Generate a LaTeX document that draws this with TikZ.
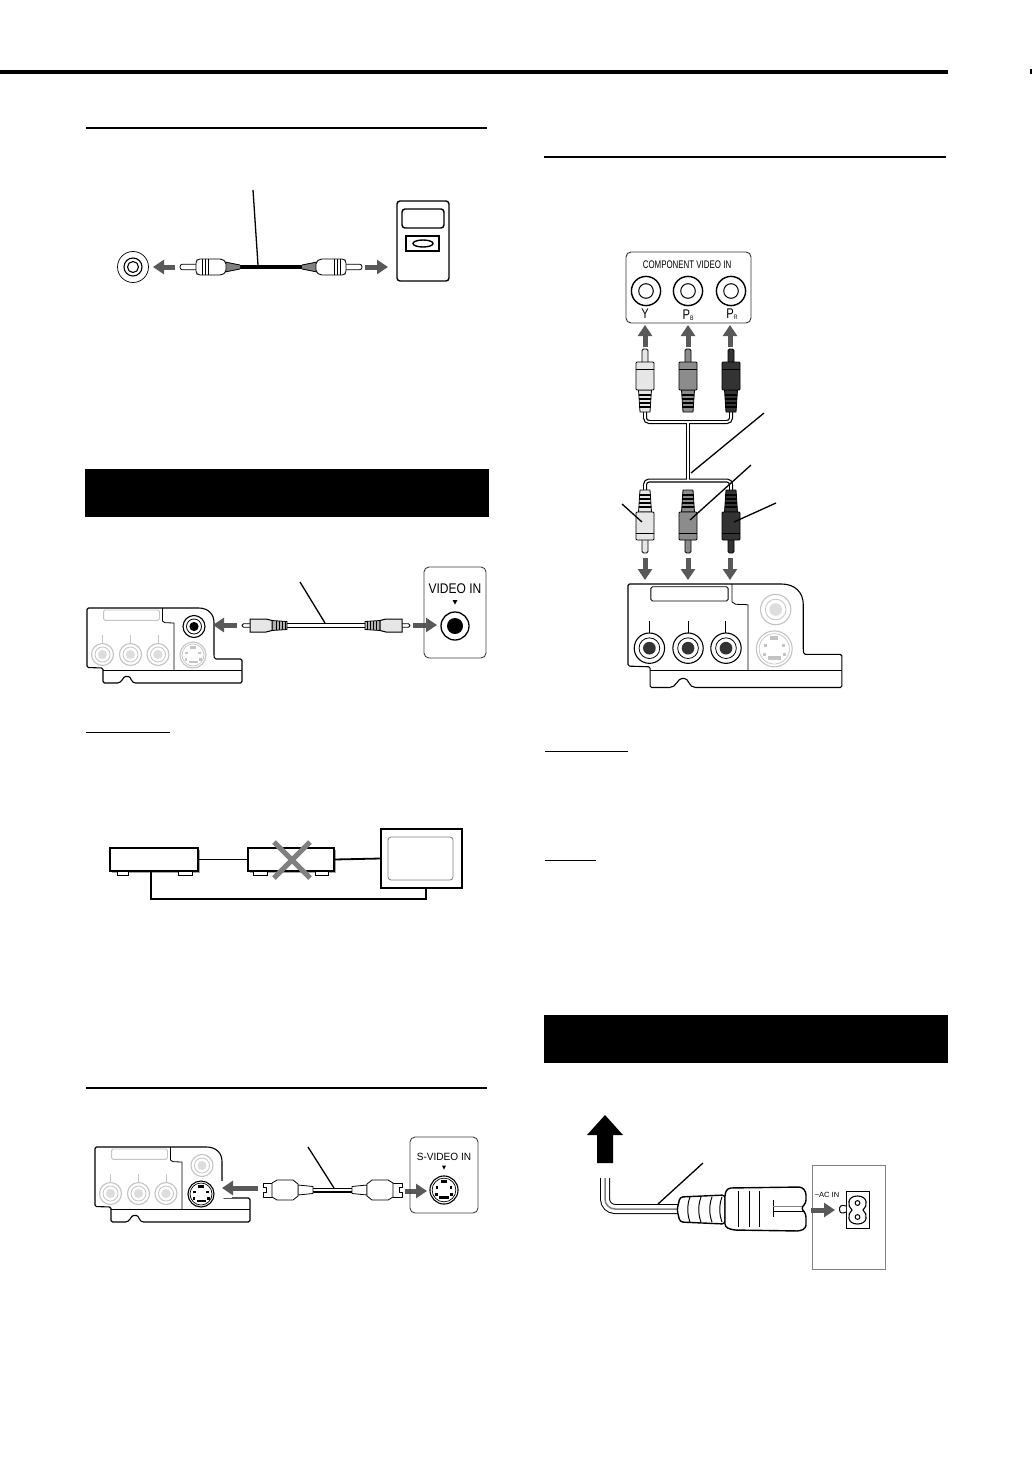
\documentclass[tikz,border=0pt]{standalone}
\usepackage{fontspec}
\setmainfont{Liberation Sans}
\usetikzlibrary{arrows.meta}
\definecolor{arrowgray}{HTML}{595959}
\definecolor{fadegray}{HTML}{C4C4C4}
\definecolor{fadefill}{HTML}{DDDDDD}
\definecolor{plugw}{HTML}{E6E6E6}
\definecolor{plugg}{HTML}{8C8C8C}
\definecolor{plugk}{HTML}{333333}
\tikzset{
  rulel/.style={line width=2pt,black},
  leader/.style={line width=1.3pt,black},
  garrow/.style={line width=5pt,arrowgray,-{Triangle[length=11pt,width=14pt]}},
  outl/.style={line width=1.1pt,black,line join=round},
  thinl/.style={line width=.8pt,black,line join=round},
  cableo/.style={line width=4pt,black,rounded corners=4pt},
  cablei/.style={line width=1.6pt,white,rounded corners=4pt},
  devbox/.style={draw=black,line width=1.1pt,fill=white,inner sep=0pt},
  lbl/.style={inner sep=0pt,text=black},
}
% RCA socket, colour of lines, colour of centre
\newcommand{\rcasock}[4]{%
  \draw[line width=1.1pt,#3,fill=white] (#1,#2) circle (11);
  \draw[line width=.8pt,#3] (#1,#2) circle (7.5);
  \fill[#4] (#1,#2) circle (4.6);
}
\newcommand{\sdin}[4]{% x y radius colour
  \begin{scope}[shift={(#1,#2)},scale=#3]
    \draw[line width=1.1pt,#4,fill=white] (0,0) circle (13);
    \draw[line width=.7pt,#4] (0,0) circle (11);
    \fill[#4] (-3,-9.5) rectangle (3,-6.5);
    \fill[#4] (-4.5,5.5) rectangle (4.5,8);
    \fill[#4] (-7.8,-3.5) rectangle (-5.3,-1);
    \fill[#4] (5.3,-3.5) rectangle (7.8,-1);
    \fill[#4] (-8.5,3) rectangle (-6,5.5);
    \fill[#4] (6,3) rectangle (8.5,5.5);
  \end{scope}
}
% rear panel: x y scale jackcolour jackfill topcolour topfill scolour slotcolour
\newcommand{\rearpanel}[9]{%
  \begin{scope}[shift={(#1,#2)},scale=#3]
    \draw[outl,fill=white,rounded corners=1.5pt] (0,0) -- (110,0)
      .. controls (121,0) and (127,6) .. (127,16) -- (127,48)
      -- (127.5,51) -- (155,51) -- (155,75) -- (50,75)
      .. controls (44,75) and (44,68.5) .. (40,68.5)
      .. controls (36,68.5) and (35,75) .. (29,75)
      -- (16,75) -- (16,60) -- (0,59.5) -- cycle;
    \draw[outl] (16,62.5) -- (155,62.5);
    \draw[thinl] (75.4,0) -- (75.4,13) -- (78,14.7) -- (87,15) -- (87,62.5);
    \draw[line width=.9pt,#9,rounded corners=1.5pt] (16.6,2) rectangle (72.5,12.3);
    \draw[line width=1pt,#4] (15.5,27) -- (15.5,36);
    \draw[line width=1pt,#4] (43.5,27) -- (43.5,36);
    \draw[line width=1pt,#4] (71,27) -- (71,36);
    \rcasock{15.5}{46.5}{#4}{#5}
    \rcasock{43.5}{46.5}{#4}{#5}
    \rcasock{71}{46.5}{#4}{#5}
    \rcasock{107}{18.5}{#6}{#7}
    \sdin{106}{47}{1}{#8}
  \end{scope}
}
% vertical plug: x, y of the tip, direction, fill
\newcommand{\vplug}[5]{%
  \begin{scope}[shift={(#1,#2)},yscale=#3]
    \draw[thinl,fill=#4,rounded corners=1.5pt] (-3,14) -- (-3,0) -- (3,0) -- (3,14);
    \draw[thinl,fill=#4] (-6.5,41) -- (-5,63) -- (5,63) -- (6.5,41) -- cycle;
    \foreach \ry in {46,50,54,58} \draw[line width=1.2pt,#5] (-6.2,\ry) -- (6.2,\ry);
    \draw[thinl,fill=#4,rounded corners=1pt] (-9,13) -- (-9,41) -- (9,41) -- (9,13) -- cycle;
    \draw[line width=.8pt,black] (-9,20) -- (9,20);
  \end{scope}
}
% small RCA plug of the first drawing
\newcommand{\hpluga}[3]{%
  \begin{scope}[shift={(#1,#2)},xscale=#3]
    \draw[thinl,fill=white,rounded corners=2.5pt] (16,-2.8) -- (0,-2.8) -- (0,2.8) -- (16,2.8);
    \fill[gray] (45,-5) -- (60,-2) -- (60,2) -- (45,5) -- cycle;
    \draw[thinl] (45,-5) -- (60,-2) (45,5) -- (60,2);
    \draw[thinl,fill=white,rounded corners=2pt] (16,-6) -- (18,-8) -- (42,-8) -- (46,-5) -- (46,5) -- (42,8) -- (18,8) -- (16,6) -- cycle;
    \draw[thinl] (22,-8) -- (22,8) (25,-8) -- (25,8) (28,-8) -- (28,8);
  \end{scope}
}
% RCA plug of the video drawing
\newcommand{\hplugb}[3]{%
  \begin{scope}[shift={(#1,#2)},xscale=#3]
    \draw[thinl,fill=white,rounded corners=1.5pt] (9,-1.8) -- (0,-1.8) -- (0,1.8) -- (9,1.8);
    \draw[thinl,fill=gray!60] (30,-5) -- (45,-4) -- (45,4) -- (30,5) -- cycle;
    \foreach \rx in {34,37,40,43} \draw[line width=1pt,black] (\rx,-4.5) -- (\rx,4.5);
    \draw[line width=1pt,black,fill=plugw] (8,-6.5) -- (24,-6.5) -- (30,-5) -- (30,5) -- (24,6.5) -- (8,6.5) -- cycle;
  \end{scope}
}
% S-video plug
\newcommand{\hplugs}[3]{%
  \begin{scope}[shift={(#1,#2)},xscale=#3]
    \draw[thinl,fill=white] (9,-7) -- (0,-7) -- (0,-2.5) -- (3,-2.5) -- (3,2.5) -- (0,2.5) -- (0,7) -- (9,7);
    \draw[thinl,fill=white] (35,-5) -- (50,-3.5) -- (50,3.5) -- (35,5) -- cycle;
    \draw[thinl,fill=white] (9,-7) -- (14,-10) -- (30,-10) -- (35,-6) -- (35,6) -- (30,10) -- (14,10) -- (9,7) -- cycle;
  \end{scope}
}
\begin{document}
\begin{tikzpicture}[x=1pt,y=-1pt]
\useasboundingbox[fill=white] (0,0) rectangle (1033,1458);

% page furniture
\fill[black] (0,70) rectangle (948,74.5);
\fill[black] (1030,69) rectangle (1032,74);
\draw[rulel] (86,128) -- (487,128);
\draw[rulel] (544,157) -- (946,157);
\draw[rulel] (86,1088) -- (487,1088);
\fill[black] (85,469) rectangle (489,517);
\fill[black] (544,1015) rectangle (948,1063);
\draw[line width=1pt] (86,732) -- (170,732);
\draw[line width=1pt] (545,751) -- (628,751);
\draw[line width=1pt] (545,860) -- (596,860);

% ---- drawing 1
\draw[line width=.7pt] (133,267) circle (15.5);
\draw[line width=1.1pt] (133,267) circle (9);
\draw[line width=1.1pt] (133,267) circle (5.5);
\draw[garrow] (175,267) -- (153,267);
\draw[garrow] (365,267) -- (388,267);
\draw[line width=4pt,black] (238,267) -- (304,267);
\hpluga{180}{267}{1}
\hpluga{362}{267}{-1}
\draw[leader] (253,190) -- (258,265);
\draw[line width=1.4pt,rounded corners=3pt] (397,201) rectangle (449,281);
\draw[line width=1.4pt,rounded corners=3pt] (402,209) rectangle (444,228);
\draw[line width=1.4pt] (406,236) rectangle (439,251);
\draw[line width=1.4pt] (423,243.5) ellipse (10 and 3.5);

% ---- drawing 2
\rearpanel{87}{608}{1}{fadegray}{fadefill}{black}{black}{fadegray}{fadegray}
\draw[garrow] (237,625) -- (213,625);
\draw[garrow] (413,625) -- (437,625);
\draw[line width=5pt,black] (285,625.5) -- (365,625.5);
\draw[line width=2.6pt,white] (285,625.5) -- (365,625.5);
\hplugb{242}{625.5}{1}
\hplugb{410}{625.5}{-1}
\draw[leader] (300,582) -- (325,623);
\draw[line width=.9pt,black!75,rounded corners=5pt] (424,567) rectangle (486,658);
\node[lbl,font=\fontsize{14}{14}\selectfont,xscale=.86] (videoin) at (455,589) {VIDEO IN};
\fill (452.5,600) -- (457.5,600) -- (455,604.5) -- cycle;
\draw[line width=1.3pt] (455,626) circle (14);
\fill (455,626) circle (8);

% ---- warning drawing
\fill[black!35] (111.5,849.5) rectangle (199.5,872.5);
\fill[black!35] (249.5,849.5) rectangle (335.5,872.5);
\draw[devbox,line width=1pt] (117,871) rectangle (128,875);
\draw[devbox,line width=1pt] (178,871) rectangle (192,875);
\draw[devbox,line width=1pt] (253,871) rectangle (267,875);
\draw[devbox,line width=1pt] (315,871) rectangle (328,875);
\node[devbox,minimum width=88pt,minimum height=23pt] (player) at (154,859.5) {};
\node[devbox,minimum width=86pt,minimum height=23pt] (vcr) at (291,859.5) {};
\node[devbox,minimum width=81pt,minimum height=59pt] (tv) at (421.5,858.5) {};
\draw[line width=.8pt,black!50,rounded corners=3pt] (388,837) rectangle (453,880);
\draw[line width=1.8pt] (player.east) -- (vcr.west);
\draw[line width=1.8pt] (vcr.east) -- (tv.west);
\coordinate (busa) at (151,871);
\coordinate (busb) at (151,899);
\coordinate (busc) at (426,899);
\coordinate (busd) at (426,888);
\draw[line width=1.8pt] (busa) -- (busb) -- (busc) -- (busd);
\draw[line width=5pt,black!50] (274,842) -- (310,878);
\draw[line width=5pt,black!50] (310,842) -- (274,878);

% ---- S-video drawing
\rearpanel{95}{1147}{1}{fadegray}{fadefill}{fadegray}{fadefill}{black}{fadegray}
\fill[white] (218,1181) rectangle (232,1198);
\draw[garrow] (258,1188) -- (222,1188);
\draw[line width=5pt,black] (310,1190) -- (352,1190);
\draw[line width=2.6pt,white] (310,1190) -- (352,1190);
\hplugs{263}{1190}{1}
\hplugs{402}{1190}{-1}
\draw[leader] (308,1147) -- (334,1188);
\draw[garrow] (405,1191) -- (427,1191);
\draw[line width=.9pt,black!75,rounded corners=5pt] (410,1137) rectangle (478,1213);
\node[lbl,font=\fontsize{10.5}{10.5}\selectfont,xscale=.96] (svideoin) at (444,1157) {S-VIDEO IN};
\fill (442,1165.5) -- (446,1165.5) -- (444,1169.5) -- cycle;
\sdin{444}{1190}{1.08}{black}

% ---- component drawing
\draw[line width=.9pt,black!80,rounded corners=5pt] (626,252) rectangle (751,323);
\node[lbl,font=\fontsize{11}{11}\selectfont,xscale=.72] (comptitle) at (687,265) {COMPONENT VIDEO IN};
\foreach \jx in {646,688,731} {
  \draw[line width=1.4pt] (\jx,291) circle (14.6);
  \draw[line width=1pt] (\jx,291) circle (7.3);
}
\node[lbl,font=\fontsize{14}{14}\selectfont,xscale=.8] (ly) at (645,314) {Y};
\node[lbl,font=\fontsize{14}{14}\selectfont,xscale=.8] (lb) at (688,315) {P\raisebox{-.5pt}{\fontsize{6.5}{6.5}\selectfont B}};
\node[lbl,font=\fontsize{14}{14}\selectfont,xscale=.8] (lr) at (732,314) {P\raisebox{-.5pt}{\fontsize{6.5}{6.5}\selectfont R}};
\foreach \ax in {645,688,730} {
  \draw[garrow] (\ax,347) -- (\ax,325);
  \draw[garrow] (\ax,558) -- (\ax,580);
}
\draw[cableo] (645,410) -- (645,422) -- (731,422) -- (731,410);
\draw[cableo] (645,493) -- (645,480.5) -- (731,480.5) -- (731,493);
\draw[cableo,rounded corners=0pt] (688,422) -- (688,480.5);
\draw[cablei] (645,410) -- (645,422) -- (731,422) -- (731,410);
\draw[cablei] (645,493) -- (645,480.5) -- (731,480.5) -- (731,493);
\draw[cablei,rounded corners=0pt] (688,422) -- (688,480.5);
\vplug{645}{349}{1}{plugw}{black}
\vplug{688}{349}{1}{plugg}{black}
\vplug{731}{349}{1}{plugk}{black}
\vplug{645}{553}{-1}{plugw}{black}
\vplug{688}{553}{-1}{plugg}{black}
\vplug{731}{553}{-1}{plugk}{black}
\draw[leader] (764,413) -- (691,473);
\draw[leader] (751,465) -- (690,520);
\draw[leader] (622,504) -- (642,522);
\draw[leader] (776,503) -- (734,522);
\rearpanel{628}{584}{1.38}{black}{plugk}{fadegray}{fadefill}{fadegray}{black}

% ---- mains drawing
\fill[black] (605,1115) -- (623,1135) -- (613,1135) -- (613,1163) -- (597,1163) -- (597,1135) -- (587,1135) -- cycle;
\draw[line width=10pt,black,rounded corners=10pt] (605,1178) -- (605,1209) -- (680,1209);
\draw[line width=8pt,white,rounded corners=10pt] (605,1177) -- (605,1209) -- (680,1209);
\draw[line width=1.5pt,gray,rounded corners=10pt] (605,1178) -- (605,1209) -- (680,1209);
\draw[leader] (703,1163) -- (658,1204);
\draw[outl,line width=1.4pt,fill=white,rounded corners=3pt] (680,1197) -- (725,1195) -- (725,1224) -- (680,1222) -- (677,1210) -- cycle;
\foreach \bx in {690,701,712,722}
  \draw[line width=1pt] (\bx,1197) .. controls (\bx-3,1205) and (\bx-3,1214) .. (\bx,1222);
\draw[outl,line width=1.4pt,fill=white,rounded corners=3pt] (725,1193) -- (728,1188) -- (802,1187) -- (806,1192) -- (806,1203) -- (801,1208)
   -- (806,1214) -- (806,1228) -- (800,1231) -- (733,1230) -- (725,1227) -- cycle;
\draw[line width=.9pt] (738,1191) -- (738,1227) (749,1191) -- (749,1227) (759,1191) -- (759,1227);
\draw[line width=.9pt] (773,1200) -- (773,1217);
\draw[line width=1pt,gray] (773,1206.5) -- (802,1206.5);
\draw[line width=1pt] (773,1211) -- (805,1211);
\draw[line width=1pt,black!50] (812,1165) rectangle (885,1269);
\node[lbl,font=\fontsize{7.5}{7.5}\selectfont] (acin) at (827,1194.5) {\textasciitilde AC IN};
\draw[garrow] (811,1210) -- (835,1210);
\draw[line width=1pt] (846,1191) rectangle (869,1228);
\draw[line width=1pt,fill=white] (846,1206) .. controls (841,1204) and (839,1207) .. (839.5,1210) .. controls (840,1213) and (842,1214) .. (846,1212);
\draw[line width=1.1pt,fill=white] (857.5,1196) .. controls (868,1196) and (868,1206) .. (863,1210) .. controls (868,1214) and (868,1224) .. (857.5,1224)
   .. controls (847,1224) and (847,1214) .. (852,1210) .. controls (847,1206) and (847,1196) .. (857.5,1196) -- cycle;
\draw[line width=1pt] (857.5,1203) circle (2.4);
\draw[line width=1pt] (857.5,1217) circle (2.4);
\end{tikzpicture}
\end{document}
